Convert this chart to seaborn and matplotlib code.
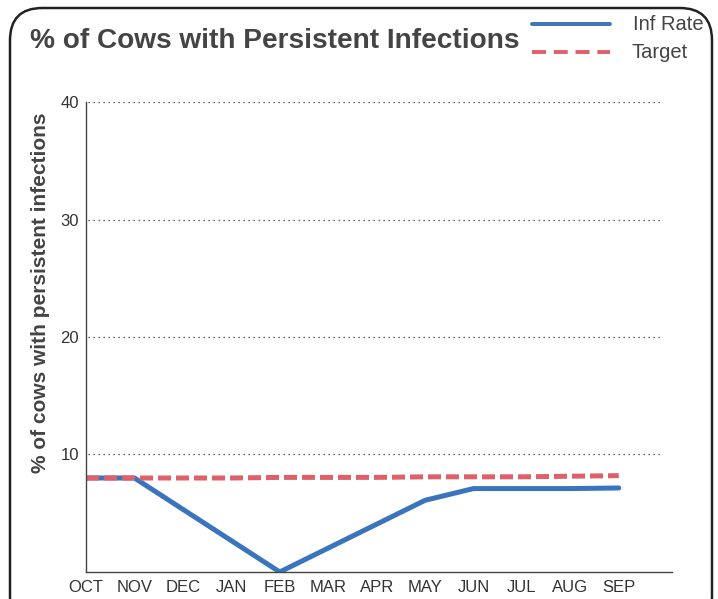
import numpy as np
import pandas as pd
import matplotlib
matplotlib.use("Agg")
import matplotlib.pyplot as plt
from matplotlib.patches import FancyBboxPatch
import seaborn as sns

months = ["OCT", "NOV", "DEC", "JAN", "FEB", "MAR", "APR", "MAY", "JUN", "JUL", "AUG", "SEP"]
inf_rate = [8.0, 8.0, np.nan, np.nan, 0.0, np.nan, np.nan, 6.1, 7.1, 7.1, 7.1, 7.15]
target = [8.0, 8.0, 8.0, 8.0, 8.05, 8.05, 8.05, 8.1, 8.1, 8.1, 8.15, 8.2]
y_ticks = [10, 20, 30, 40]

title = "% of Cows with Persistent Infections"
ylabel = "% of cows with persistent infections"

sns.set_style("white")
plt.rcParams["font.family"] = ["Liberation Sans", "DejaVu Sans"]

pos = np.arange(len(months))
df = pd.concat([
    pd.DataFrame({"pos": pos, "value": inf_rate, "series": "Inf Rate"}),
    pd.DataFrame({"pos": pos, "value": target, "series": "Target"}),
]).dropna()

fig = plt.figure(figsize=(7.18, 5.99), dpi=100)
ax = fig.add_axes([0.1198, 0.0451, 0.936 - 0.1198, 0.8297 - 0.0451])

palette = {"Inf Rate": "#3a74bd", "Target": "#e0606a"}
sns.lineplot(data=df, x="pos", y="value", hue="series", style="series",
             palette=palette, dashes={"Inf Rate": "", "Target": (2.6, 1.0)},
             linewidth=3.6, ax=ax, legend=False, estimator=None, sort=True)

ax.set_xlim(0, 12.1)
ax.set_ylim(0, 40)
ax.set_xticks(pos)
ax.set_xticklabels(months, fontsize=12, color="#333333")
ax.set_yticks(y_ticks)
ax.set_yticklabels([str(v) for v in y_ticks], fontsize=12, color="#333333")
ax.tick_params(axis="x", direction="inout", length=6, width=0.8, color="#444444", pad=3)
ax.tick_params(axis="y", direction="out", length=3, width=0.8, color="#444444", pad=2)
ax.set_xlabel("")
ax.set_ylabel(ylabel, fontsize=15, fontweight="bold", color="#444444")
ax.yaxis.set_label_coords(-0.062, 0.595)

ax.grid(False)
for v in y_ticks:
    ax.axhline(v, color="#333333", linestyle=(0, (1, 3)), linewidth=0.9, xmin=0.004, xmax=0.985, zorder=0)

for s in ["top", "right"]:
    ax.spines[s].set_visible(False)
ax.spines["left"].set_color("#444444")
ax.spines["bottom"].set_color("#444444")
ax.spines["left"].set_linewidth(1.0)
ax.spines["bottom"].set_linewidth(1.0)

fig.text(30 / 718, 1 - 41 / 599, title, fontsize=20.2, fontweight="bold", color="#444444",
         ha="left", va="center")

# legend
fig.add_artist(plt.Line2D([532 / 718, 610 / 718], [1 - 24 / 599, 1 - 24 / 599],
                          color=palette["Inf Rate"], linewidth=2.8, transform=fig.transFigure))
fig.add_artist(plt.Line2D([532 / 718, 610 / 718], [1 - 52 / 599, 1 - 52 / 599],
                          color=palette["Target"], linewidth=2.8, linestyle=(0, (3.6, 2.0)),
                          transform=fig.transFigure))
fig.text(633 / 718, 1 - 24 / 599, "Inf Rate", fontsize=14.5, color="#444444", ha="left", va="center")
fig.text(632 / 718, 1 - 52 / 599, "Target", fontsize=14.5, color="#444444", ha="left", va="center")

border = FancyBboxPatch((10 / 718, -0.05), (712 - 10) / 718, (1 - 8 / 599) + 0.05,
                        boxstyle="round,pad=0,rounding_size=0.045",
                        transform=fig.transFigure, fill=False, edgecolor="#222222",
                        linewidth=1.8, mutation_aspect=718 / 599)
fig.add_artist(border)

fig.savefig("out.png", dpi=100)
